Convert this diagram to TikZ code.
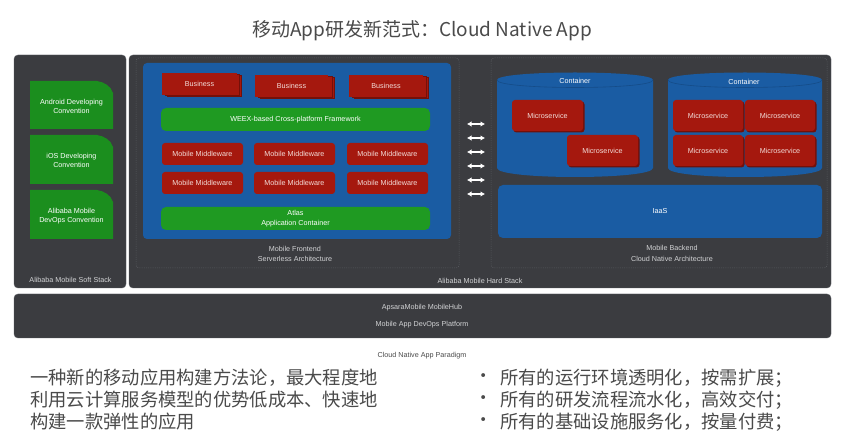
\documentclass[tikz,border=0pt]{standalone}
\usepackage{fontspec}
\setmainfont{Liberation Sans}
\newfontfamily\cjk{Noto Sans CJK SC}
\usetikzlibrary{arrows.meta}
\definecolor{panelc}{HTML}{3B3C40}
\definecolor{panelline}{HTML}{5A5C61}
\definecolor{bluec}{HTML}{1A5CA3}
\definecolor{bluedark}{HTML}{154C88}
\definecolor{redc}{HTML}{A5180E}
\definecolor{reddark}{HTML}{73100A}
\definecolor{greenc}{HTML}{1F9A22}
\definecolor{docgreen}{HTML}{1B8E1E}
\definecolor{labelc}{HTML}{D2D3D5}
\definecolor{boxtext}{HTML}{F3DDD9}
\definecolor{bodytext}{HTML}{4A4A4A}
\tikzset{
  small/.style={font=\fontsize{7.2}{9}\selectfont},
  panelbox/.style={fill=panelc, draw=panelline, line width=0.4pt, rounded corners=4pt},
  region/.style={draw=panelline, line width=0.5pt, dash pattern=on 1pt off 1.2pt, rounded corners=3pt},
  redbox/.style={small, fill=redc, text=boxtext, rounded corners=3pt, inner sep=0pt, minimum width=81pt, minimum height=22pt},
  greenbar/.style={small, fill=greenc, text=white, rounded corners=5pt, inner sep=0pt, align=center, minimum width=269pt, minimum height=23pt},
  microbox/.style={small, fill=redc, text=boxtext, rounded corners=3pt, inner sep=0pt, minimum height=31pt},
  lbl/.style={small, text=labelc, align=center, inner sep=0pt},
  doctext/.style={small, text=white, align=center, inner sep=0pt},
  dblarrow/.style={{Latex[length=4.5pt,width=5.5pt]}-{Latex[length=4.5pt,width=5.5pt]}, white, line width=1.1pt},
  cjkbody/.style={font=\cjk\fontsize{18.3}{22}\selectfont, text=bodytext, inner sep=0pt, anchor=west}
}
\begin{document}
\begin{tikzpicture}[x=1pt,y=-1pt]
\useasboundingbox[fill=white] (0,0) rectangle (844,446);

% title
\node[font=\cjk\fontsize{19}{22}\selectfont, text=bodytext, inner sep=0pt] (title) at (422,31) {移动App研发新范式：Cloud Native App};

% panels
\draw[panelbox] (14,55) rectangle (126,288);
\draw[panelbox] (129,55) rectangle (831,288);
\draw[panelbox] (14,294) rectangle (831,338);

% soft stack documents
\foreach \t/\b in {81/129, 135/184, 190/239}{
  \fill[docgreen] (30,\t) -- (97,\t) .. controls (104,\t+1) and (111,\t+5) .. (113,\t+12) -- (113,\b) -- (30,\b) -- cycle;
}
\node[doctext] (d1) at (71.5,106) {Android Developing\\Convention};
\node[doctext] (d2) at (71.5,160) {iOS Developing\\Convention};
\node[doctext] (d3) at (71.5,216) {Alibaba Mobile\\DevOps Convention};
\node[lbl] (softlbl) at (70.5,280) {Alibaba Mobile Soft Stack};

% regions
\draw[region] (136,58) rectangle (459,268);
\draw[region] (491,58) rectangle (827,268);

% frontend
\fill[bluec, rounded corners=4pt] (143,63) rectangle (451,239);
% business stacks
\foreach \x/\y in {162/73, 255/75, 349/75}{
  \fill[reddark] (\x+5,\y+2) rectangle (\x+80,\y+24);
  \fill[redc] (\x+5.6,\y+2.6) rectangle (\x+79.4,\y+23.4);
  \fill[reddark] (\x+2.5,\y+1) rectangle (\x+77.5,\y+23);
  \fill[redc] (\x+3.1,\y+1.6) rectangle (\x+76.9,\y+22.4);
}
\node[redbox, minimum width=75pt, rounded corners=0pt] (b1) at (199.5,84) {Business};
\node[redbox, minimum width=73pt, rounded corners=0pt] (b2) at (291.5,86) {Business};
\node[redbox, minimum width=74pt, rounded corners=0pt] (b3) at (386,86) {Business};

\node[greenbar] (weex) at (295.5,119.5) {WEEX-based Cross-platform Framework};
\node[redbox] (m1) at (202.5,154) {Mobile Middleware};
\node[redbox] (m2) at (294.5,154) {Mobile Middleware};
\node[redbox] (m3) at (387.5,154) {Mobile Middleware};
\node[redbox] (m4) at (202.5,183) {Mobile Middleware};
\node[redbox] (m5) at (294.5,183) {Mobile Middleware};
\node[redbox] (m6) at (387.5,183) {Mobile Middleware};
\node[greenbar, font=\fontsize{7.2}{10}\selectfont] (atlas) at (295.5,218.5) {Atlas\\Application Container};
\node[lbl, font=\fontsize{7.2}{10.5}\selectfont] (felbl) at (295,254) {Mobile Frontend\\Serverless Architecture};

% arrows
\foreach \i/\y in {1/124, 2/138, 3/152, 4/166, 5/180, 6/194}{
  \coordinate (aL\i) at (467,\y);
  \coordinate (aR\i) at (485,\y);
  \draw[dblarrow] (aL\i) -- (aR\i);
}

% backend containers
\foreach \l/\r in {497/653, 668/822}{
  \fill[bluec] (\l,80) .. controls (\l,70) and (\r,70) .. (\r,80) -- (\r,168) .. controls (\r,180) and (\l,180) .. (\l,168) -- cycle;
  \draw[bluedark, line width=0.6pt] (\l,80) .. controls (\l,90) and (\r,90) .. (\r,80);
}
\node[lbl, text=white] (c1lbl) at (575,81) {Container};
\node[lbl, text=white] (c2lbl) at (744,82) {Container};

\foreach \x/\y/\w in {512/100/71, 567/135/71, 673/100/70, 745/100/70, 673/135/70, 745/135/70}{
  \fill[reddark, rounded corners=3pt] (\x+1.5,\y+1.5) rectangle (\x+\w+1.5,\y+32.5);
}
\node[microbox, minimum width=71pt] (ms1) at (547.5,115.5) {Microservice};
\node[microbox, minimum width=71pt] (ms2) at (602.5,150.5) {Microservice};
\node[microbox, minimum width=70pt] (ms3) at (708,115.5) {Microservice};
\node[microbox, minimum width=70pt] (ms4) at (780,115.5) {Microservice};
\node[microbox, minimum width=70pt] (ms5) at (708,150.5) {Microservice};
\node[microbox, minimum width=70pt] (ms6) at (780,150.5) {Microservice};

\node[small, fill=bluec, text=white, rounded corners=5pt, inner sep=0pt, minimum width=324pt, minimum height=53pt] (iaas) at (660,211.5) {IaaS};
\node[lbl, font=\fontsize{7.2}{10.5}\selectfont] (belbl) at (672,253.5) {Mobile Backend\\Cloud Native Architecture};

\node[lbl] (hardlbl) at (480,281) {Alibaba Mobile Hard Stack};

% bottom platform
\node[lbl] (hub) at (422,308) {ApsaraMobile MobileHub};
\node[lbl] (devops) at (422,325) {Mobile App DevOps Platform};
\node[small, text=bodytext, inner sep=0pt] (paradigm) at (422,356) {Cloud Native App Paradigm};

% body text
\node[cjkbody] (l1) at (30,378) {一种新的移动应用构建方法论，最大程度地};
\node[cjkbody] (l2) at (30,400) {利用云计算服务模型的优势低成本、快速地};
\node[cjkbody] (l3) at (30,422) {构建一款弹性的应用};

\node[cjkbody, anchor=center] (bu1) at (484,378) {•};
\node[cjkbody, anchor=center] (bu2) at (484,400) {•};
\node[cjkbody, anchor=center] (bu3) at (484,422) {•};
\node[cjkbody] (r1) at (500,378) {所有的运行环境透明化，按需扩展；};
\node[cjkbody] (r2) at (500,400) {所有的研发流程流水化，高效交付；};
\node[cjkbody] (r3) at (500,422) {所有的基础设施服务化，按量付费；};
\end{tikzpicture}
\end{document}
